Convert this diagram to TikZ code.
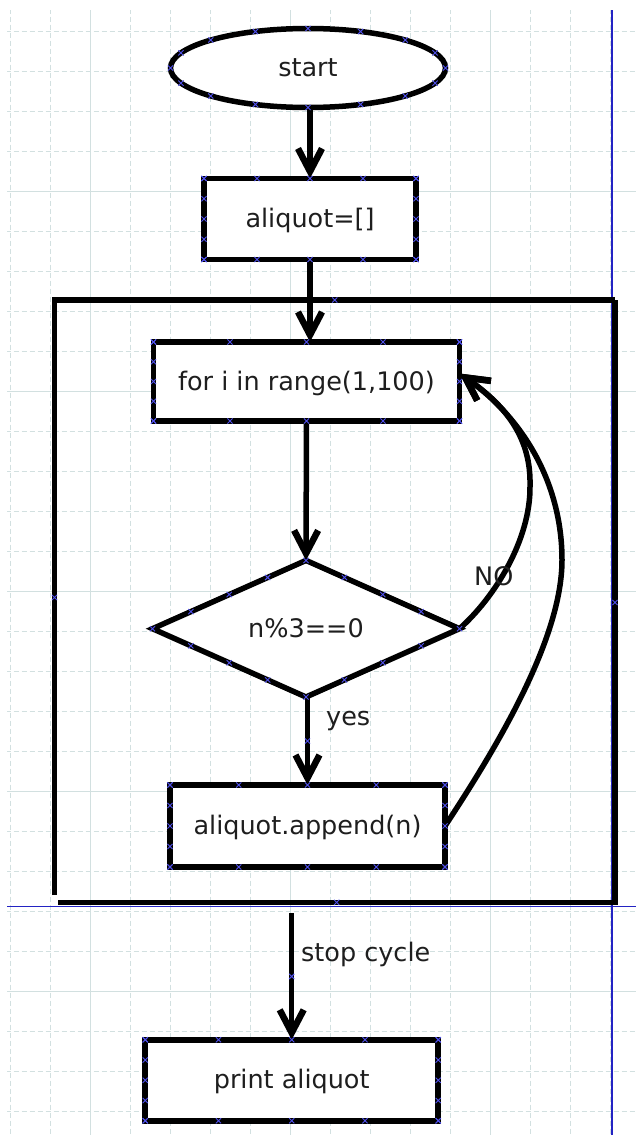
\documentclass[tikz,border=0pt]{standalone}
\usepackage{fontspec}
\setmainfont{DejaVu Sans}
\usetikzlibrary{shapes.geometric,arrows.meta,calc}
\definecolor{gridc}{RGB}{210,224,224}
\definecolor{pageblue}{RGB}{35,35,195}
\definecolor{cpblue}{RGB}{80,80,235}
\definecolor{txt}{RGB}{30,30,30}
\tikzset{
  cpx/.pic={\draw[cpblue, line width=0.9pt] (-2.6,-2.6)--(2.6,2.6) (-2.6,2.6)--(2.6,-2.6);},
}
\begin{document}
\begin{tikzpicture}[x=1pt,y=-1pt,
  every node/.style={font=\fontsize{25.5}{30}\selectfont, text=txt},
  shapebox/.style={draw=black, line width=5.5pt, fill=white, rectangle, inner sep=0pt, outer sep=0pt, text height=19pt, text depth=2pt},
  conn/.style={draw=black, line width=5.5pt, -{Straight Barb[length=23pt,width=24pt,line width=6.5pt]}},
  cont/.style={draw=black, line width=5.5pt},
  gridd/.style={gridc, line width=1pt, dash pattern=on 5pt off 3pt},
  grids/.style={gridc, line width=1pt},
  pagel/.style={pageblue, line width=1.6pt},
  lbl/.style={anchor=base west, inner sep=0pt}
]
\useasboundingbox (0,0) rectangle (636,1135);
\fill[white] (0,0) rectangle (636,1135);
% grid
\foreach \i in {0,...,15} \draw[gridd, dash phase=1.3pt] ({10.7+40*\i},10) -- ({10.7+40*\i},1135);
\foreach \i in {0,...,27} \draw[gridd, dash phase=9.3pt] (7,{31.7+40*\i}) -- (636,{31.7+40*\i});
\foreach \x in {90.7,290.7,490.7} \draw[grids] (\x,10) -- (\x,1135);
\foreach \y in {191.7,391.7,591.7,791.7,991.7} \draw[grids] (7,\y) -- (636,\y);
% page boundaries
\draw[pagel] (611.7,10) -- (611.7,1135);
\draw[pagel] (7,906.5) -- (636,906.5);
% container
\coordinate (ctl) at (54.5,300);
\coordinate (ctr) at (615,300);
\coordinate (cbl) at (58.3,902.3);
\coordinate (cbr) at (615,902.3);
\draw[cont] (54.5,895) -- (ctl) -- (ctr);
\draw[cont] (ctr) -- (615,905);
\draw[cont] (cbl) -- (cbr);
% shapes
\node[shapebox, ellipse, minimum width=275pt, minimum height=79pt] (start) at (308,68) {start};
\node[shapebox, minimum width=212pt, minimum height=81pt] (aliq) at (310,219) {aliquot=[]};
\node[shapebox, minimum width=306pt, minimum height=79pt] (for) at (306.5,381.5) {for i in range(1,100)};
\node[shapebox, diamond, minimum width=307pt, minimum height=131pt] (dia) at (306,628.7) {n\%3==0};
\node[shapebox, minimum width=275pt, minimum height=82pt] (app) at (307.5,826) {aliquot.append(n)};
\node[shapebox, minimum width=293pt, minimum height=81pt] (print) at (291.7,1080.3) {print aliquot};
% connectors
\coordinate (s0) at (aliq.north |- start.south);
\draw[conn] (s0) -- (aliq.north);
\coordinate (s1) at (aliq.south |- for.north);
\draw[conn] (aliq.south) -- (s1);
\draw[conn] (for.south) -- (dia.north);
\coordinate (s2) at (app.north |- dia.south);
\draw[conn] (s2) -- (app.north);
\coordinate (ss) at (291.7,913);
\draw[conn] (ss) -- (print.north);
\coordinate (ftip) at ($(for.east)+(0,-8)$);
\draw[conn] (dia.east) .. controls (494,598) and (531,540) .. (530,485) .. controls (531,440) and (508,407) .. (ftip);
\draw[conn] (app.east) .. controls (495,750) and (562,640) .. (562,560) .. controls (562,480) and (520,416) .. (ftip);
% labels
\node[lbl] (yes) at (326,725) {yes};
\node[lbl] (no) at (474,585) {NO};
\node[lbl] (stop) at (301,961) {stop cycle};
% connection points
\foreach \n in {aliq,for,app,print}{
  \foreach \f in {0,0.25,0.5,0.75,1}{
    \path ($(\n.north west)!\f!(\n.north east)$) pic{cpx};
    \path ($(\n.south west)!\f!(\n.south east)$) pic{cpx};
    \path ($(\n.north west)!\f!(\n.south west)$) pic{cpx};
    \path ($(\n.north east)!\f!(\n.south east)$) pic{cpx};
  }
}
\foreach \a in {0,22.5,...,337.5} \path ($(start.center)+({137.5*cos(\a)},{39.5*sin(\a)})$) pic{cpx};
\foreach \p/\q in {north/east,east/south,south/west,west/north}
  \foreach \f in {0,0.25,0.5,0.75} \path ($(dia.\p)!\f!(dia.\q)$) pic{cpx};
\path ($(s2)!0.5!(app.north)$) pic{cpx};
\path ($(ss)!0.5!(print.north)$) pic{cpx};
\path ($(ctl)!0.5!(ctr)$) pic{cpx};
\path ($(cbl)!0.5!(cbr)$) pic{cpx};
\path ($(ctl)!0.5!(54.5,895)$) pic{cpx};
\path ($(ctr)!0.5!(615,905)$) pic{cpx};
\end{tikzpicture}
\end{document}
